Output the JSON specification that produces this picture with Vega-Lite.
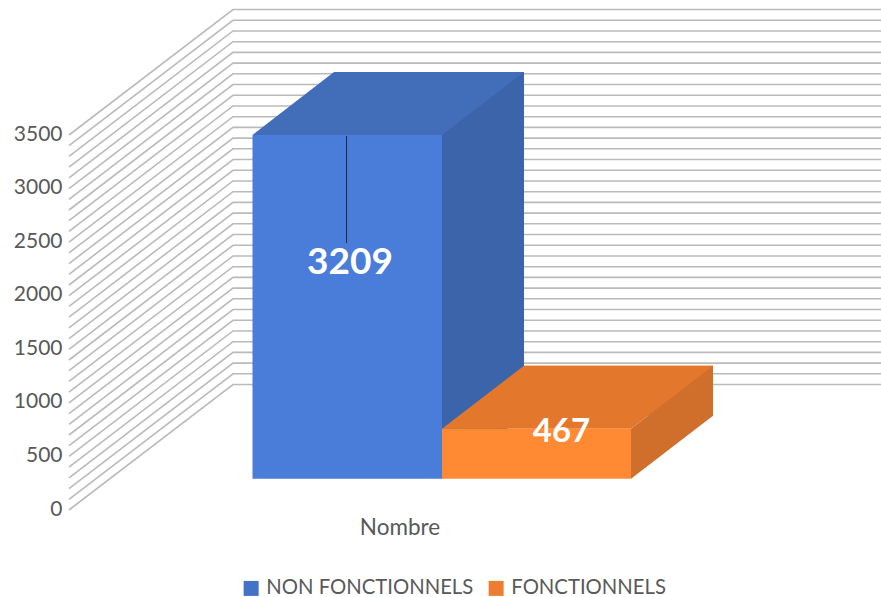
{"$schema":"https://vega.github.io/schema/vega-lite/v6.json","width":881,"height":597,"autosize":{"type":"none"},"padding":0,"background":"white","config":{"view":{"stroke":null},"font":"Lato"},
"datasets":{"grid":[
{"g":0,"x":69,"y":0},{"g":0,"x":233,"y":1171},{"g":0,"x":881,"y":1171},
{"g":100,"x":69,"y":100},{"g":100,"x":233,"y":1271},{"g":100,"x":881,"y":1271},
{"g":200,"x":69,"y":200},{"g":200,"x":233,"y":1371},{"g":200,"x":881,"y":1371},
{"g":300,"x":69,"y":300},{"g":300,"x":233,"y":1471},{"g":300,"x":881,"y":1471},
{"g":400,"x":69,"y":400},{"g":400,"x":233,"y":1571},{"g":400,"x":881,"y":1571},
{"g":500,"x":69,"y":500},{"g":500,"x":233,"y":1671},{"g":500,"x":881,"y":1671},
{"g":600,"x":69,"y":600},{"g":600,"x":233,"y":1771},{"g":600,"x":881,"y":1771},
{"g":700,"x":69,"y":700},{"g":700,"x":233,"y":1871},{"g":700,"x":881,"y":1871},
{"g":800,"x":69,"y":800},{"g":800,"x":233,"y":1971},{"g":800,"x":881,"y":1971},
{"g":900,"x":69,"y":900},{"g":900,"x":233,"y":2071},{"g":900,"x":881,"y":2071},
{"g":1000,"x":69,"y":1000},{"g":1000,"x":233,"y":2171},{"g":1000,"x":881,"y":2171},
{"g":1100,"x":69,"y":1100},{"g":1100,"x":233,"y":2271},{"g":1100,"x":881,"y":2271},
{"g":1200,"x":69,"y":1200},{"g":1200,"x":233,"y":2371},{"g":1200,"x":881,"y":2371},
{"g":1300,"x":69,"y":1300},{"g":1300,"x":233,"y":2471},{"g":1300,"x":881,"y":2471},
{"g":1400,"x":69,"y":1400},{"g":1400,"x":233,"y":2571},{"g":1400,"x":881,"y":2571},
{"g":1500,"x":69,"y":1500},{"g":1500,"x":233,"y":2671},{"g":1500,"x":881,"y":2671},
{"g":1600,"x":69,"y":1600},{"g":1600,"x":233,"y":2771},{"g":1600,"x":881,"y":2771},
{"g":1700,"x":69,"y":1700},{"g":1700,"x":233,"y":2871},{"g":1700,"x":881,"y":2871},
{"g":1800,"x":69,"y":1800},{"g":1800,"x":233,"y":2971},{"g":1800,"x":881,"y":2971},
{"g":1900,"x":69,"y":1900},{"g":1900,"x":233,"y":3071},{"g":1900,"x":881,"y":3071},
{"g":2000,"x":69,"y":2000},{"g":2000,"x":233,"y":3171},{"g":2000,"x":881,"y":3171},
{"g":2100,"x":69,"y":2100},{"g":2100,"x":233,"y":3271},{"g":2100,"x":881,"y":3271},
{"g":2200,"x":69,"y":2200},{"g":2200,"x":233,"y":3371},{"g":2200,"x":881,"y":3371},
{"g":2300,"x":69,"y":2300},{"g":2300,"x":233,"y":3471},{"g":2300,"x":881,"y":3471},
{"g":2400,"x":69,"y":2400},{"g":2400,"x":233,"y":3571},{"g":2400,"x":881,"y":3571},
{"g":2500,"x":69,"y":2500},{"g":2500,"x":233,"y":3671},{"g":2500,"x":881,"y":3671},
{"g":2600,"x":69,"y":2600},{"g":2600,"x":233,"y":3771},{"g":2600,"x":881,"y":3771},
{"g":2700,"x":69,"y":2700},{"g":2700,"x":233,"y":3871},{"g":2700,"x":881,"y":3871},
{"g":2800,"x":69,"y":2800},{"g":2800,"x":233,"y":3971},{"g":2800,"x":881,"y":3971},
{"g":2900,"x":69,"y":2900},{"g":2900,"x":233,"y":4071},{"g":2900,"x":881,"y":4071},
{"g":3000,"x":69,"y":3000},{"g":3000,"x":233,"y":4171},{"g":3000,"x":881,"y":4171},
{"g":3100,"x":69,"y":3100},{"g":3100,"x":233,"y":4271},{"g":3100,"x":881,"y":4271},
{"g":3200,"x":69,"y":3200},{"g":3200,"x":233,"y":4371},{"g":3200,"x":881,"y":4371},
{"g":3300,"x":69,"y":3300},{"g":3300,"x":233,"y":4471},{"g":3300,"x":881,"y":4471},
{"g":3400,"x":69,"y":3400},{"g":3400,"x":233,"y":4571},{"g":3400,"x":881,"y":4571},
{"g":3500,"x":69,"y":3500},{"g":3500,"x":233,"y":4671},{"g":3500,"x":881,"y":4671}
],
"backs":[
{"series":"NON FONCTIONNELS","x":334,"x2":524,"y":4089,"y2":880},
{"series":"FONCTIONNELS","x":524,"x2":713,"y":1347,"y2":880}
],
"faces":[
{"face":"blue top","x":252.5,"y":3501,"y2":3501},{"face":"blue top","x":334,"y":4089,"y2":3501},{"face":"blue top","x":442,"y":4089,"y2":3501},{"face":"blue top","x":524,"y":4089,"y2":4089},
{"face":"blue side","x":442,"y":3501,"y2":292},{"face":"blue side","x":524,"y":4089,"y2":880},
{"face":"blue front","x":252.5,"y":3501,"y2":292},{"face":"blue front","x":442,"y":3501,"y2":292},
{"face":"orange top","x":442,"y":759,"y2":759},{"face":"orange top","x":524,"y":1347,"y2":759},{"face":"orange top","x":631,"y":1347,"y2":759},{"face":"orange top","x":713,"y":1347,"y2":1347},
{"face":"orange side","x":631,"y":759,"y2":292},{"face":"orange side","x":713,"y":1347,"y2":880},
{"face":"orange front","x":442,"y":759,"y2":292},{"face":"orange front","x":631,"y":759,"y2":292}
]},
"layer":[
{"data":{"name":"grid"},"mark":{"type":"line","color":"#BABABA","strokeWidth":1.6,"interpolate":"linear"},"encoding":{"x":{"field":"x","type":"quantitative","scale":{"domain":[0,881],"nice":false,"zero":false},"axis":null},"y":{"field":"y","type":"quantitative","scale":{"domain":[-812,4760],"nice":false,"zero":false},"axis":{"values":[0,500,1000,1500,2000,2500,3000,3500],"format":"d","offset":-62,"orient":"left","title":null,"domain":false,"ticks":false,"grid":false,"labelPadding":0,"labelFontSize":21,"labelFont":"Lato","labelColor":"#595959","labelOffset":-1}},"detail":{"field":"g"},"order":{"field":"x"}}},
{"data":{"name":"backs"},"mark":{"type":"rect"},"encoding":{"x":{"field":"x","type":"quantitative"},"x2":{"field":"x2"},"y":{"field":"y","type":"quantitative"},"y2":{"field":"y2"},"color":{"field":"series","type":"nominal","scale":{"domain":["NON FONCTIONNELS","FONCTIONNELS"],"range":["#4472C4","#ED7D31"]},"legend":{"orient":"none","legendX":241,"legendY":578,"direction":"horizontal","columns":2,"title":null,"symbolType":"square","symbolSize":225,"labelFontSize":20.3,"labelFont":"Lato","labelColor":"#595959","labelLimit":400,"padding":0,"columnPadding":12,"labelOffset":5,"symbolStrokeWidth":0}}}},
{"data":{"name":"faces"},"mark":{"type":"area","line":false},"encoding":{"x":{"field":"x","type":"quantitative"},"y":{"field":"y","type":"quantitative"},"y2":{"field":"y2"},"fill":{"field":"face","type":"nominal","legend":null,"scale":{"domain":["blue top","blue side","blue front","orange top","orange side","orange front"],"range":["#426DB9","#3C64AB","#4A7DD9","#E3782D","#CF6F2B","#FF8A33"]}}}},
{"data":{"values":[{"x":346.5,"y":3491,"y2":2492}]},"mark":{"type":"rule","color":"#1F2A40","strokeWidth":1},"encoding":{"x":{"field":"x","type":"quantitative"},"y":{"field":"y","type":"quantitative"},"y2":{"field":"y2"}}},
{"data":{"values":[{"value":3209,"x":350,"y":2305}]},"mark":{"type":"text","color":"white","font":"Lato","fontWeight":"bold","fontSize":37,"baseline":"middle","align":"center"},"encoding":{"x":{"field":"x","type":"quantitative"},"y":{"field":"y","type":"quantitative"},"text":{"field":"value","type":"nominal"}}},
{"data":{"values":[{"value":467,"x":561.5,"y":728}]},"mark":{"type":"text","color":"white","font":"Lato","fontWeight":"bold","fontSize":33,"baseline":"middle","align":"center"},"encoding":{"x":{"field":"x","type":"quantitative"},"y":{"field":"y","type":"quantitative"},"text":{"field":"value","type":"nominal"}}},
{"data":{"values":[{"category":"Nombre","x":400,"y":-168}]},"mark":{"type":"text","color":"#595959","font":"Lato","fontSize":22.5,"baseline":"middle","align":"center"},"encoding":{"x":{"field":"x","type":"quantitative"},"y":{"field":"y","type":"quantitative"},"text":{"field":"category","type":"nominal"}}}
]}
